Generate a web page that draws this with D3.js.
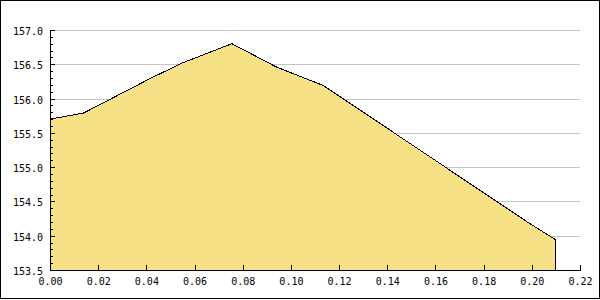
<!DOCTYPE html>
<html>
<head>
<meta charset="utf-8">
<script src="https://cdn.jsdelivr.net/npm/d3@7"></script>
<style>
  body { margin: 0; background: #fff; }
  text { font-family: "DejaVu Sans Mono", monospace; font-size: 10px; fill: #000; }
</style>
</head>
<body>
<div id="chart"></div>
<script>
// data
var xValues = [0.000, 0.014, 0.042, 0.055, 0.0755, 0.094, 0.1135, 0.199, 0.210];
var yValues = [155.70, 155.79, 156.30, 156.52, 156.80, 156.46, 156.19, 154.18, 153.94];
var xTicks = [0.00, 0.02, 0.04, 0.06, 0.08, 0.10, 0.12, 0.14, 0.16, 0.18, 0.20, 0.22];
var yTicks = [153.5, 154.0, 154.5, 155.0, 155.5, 156.0, 156.5, 157.0];

var svgWidth = 600;
var svgHeight = 300;

var margin = { top: 30, right: 20, bottom: 30, left: 50 };
var width = svgWidth - margin.left - margin.right;   // 530
var height = svgHeight - margin.top - margin.bottom; // 240

var dataset = xValues.map(function(x, i) { return { x: x, y: yValues[i] }; });

var svg = d3.select("#chart")
    .append("svg")
    .attr("width", svgWidth)
    .attr("height", svgHeight);

svg.append("rect")
    .attr("width", svgWidth)
    .attr("height", svgHeight)
    .attr("fill", "#fff");

var chartGroup = svg.append("g")
    .attr("transform", `translate(${margin.left}, ${margin.top})`);

var xScale = d3.scaleLinear().domain([0, 0.22]).range([0, width]);
var yScale = d3.scaleLinear().domain([153.5, 157.0]).range([height, 0]);

// gridlines behind the area
chartGroup.append("g")
    .selectAll("line")
    .data(yTicks.slice(1))
    .enter()
    .append("line")
    .attr("x1", 0)
    .attr("x2", width)
    .attr("y1", d => Math.round(yScale(d)) + 0.5)
    .attr("y2", d => Math.round(yScale(d)) + 0.5)
    .attr("stroke", "#c4c4c4")
    .attr("shape-rendering", "crispEdges");

// filled area
var area = d3.area()
    .x(d => xScale(d.x))
    .y0(height)
    .y1(d => yScale(d.y));

chartGroup.append("path")
    .datum(dataset)
    .attr("d", area)
    .attr("fill", "#f6e186")
    .attr("stroke", "#000")
    .attr("stroke-width", 1)
    .attr("shape-rendering", "crispEdges");

// x axis, ticks pointing inward
var bottomAxis = d3.axisBottom(xScale)
    .tickValues(xTicks)
    .tickSizeInner(-5)
    .tickSizeOuter(0)
    .tickFormat(d3.format(".2f"));

var xAxisG = chartGroup.append("g")
    .attr("transform", `translate(0, ${height})`)
    .attr("shape-rendering", "crispEdges")
    .call(bottomAxis);
xAxisG.select(".domain").attr("stroke", "#000");
xAxisG.selectAll(".tick line").attr("stroke", "#000");
xAxisG.selectAll("text")
    .attr("y", 14.5)
    .attr("dy", null)
    .style("font-family", "DejaVu Sans Mono")
    .style("font-size", "10px");

// y axis minor ticks
var minorTicks = d3.range(1535, 1571).map(d => d / 10);
chartGroup.append("g")
    .selectAll("line")
    .data(minorTicks)
    .enter()
    .append("line")
    .attr("x1", 0)
    .attr("x2", 3)
    .attr("y1", d => Math.round(yScale(d)) + 0.5)
    .attr("y2", d => Math.round(yScale(d)) + 0.5)
    .attr("stroke", "#000")
    .attr("shape-rendering", "crispEdges");

var leftAxis = d3.axisLeft(yScale)
    .tickValues(yTicks)
    .tickSizeInner(-5)
    .tickSizeOuter(0)
    .tickFormat(d3.format(".1f"));

var yAxisG = chartGroup.append("g")
    .attr("shape-rendering", "crispEdges")
    .call(leftAxis);
yAxisG.select(".domain").attr("stroke", "#000");
yAxisG.selectAll(".tick line").attr("stroke", "#000");
yAxisG.selectAll("text")
    .attr("x", -7)
    .attr("dy", "4.5")
    .style("font-family", "DejaVu Sans Mono")
    .style("font-size", "10px");

// outer frame
svg.append("path")
    .attr("d", "M0.5,0.5H599.5V298.5H0.5Z")
    .attr("fill", "none")
    .attr("stroke", "#000")
    .attr("shape-rendering", "crispEdges");
</script>
</body>
</html>
